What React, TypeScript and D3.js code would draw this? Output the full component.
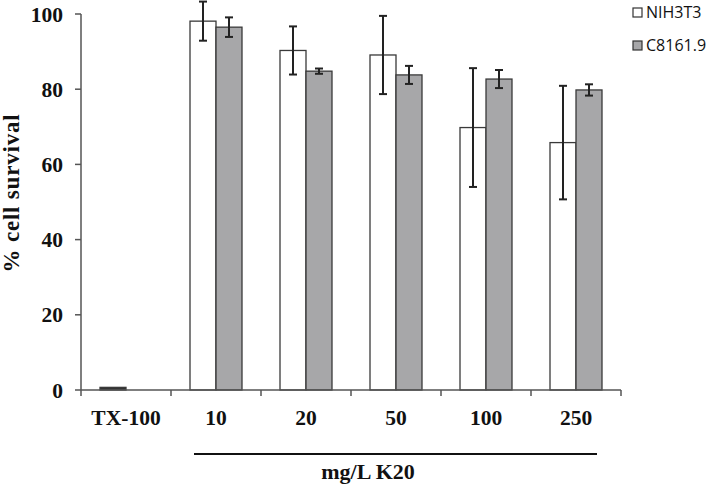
import React from "react";
import * as d3 from "d3";

const categories = ["TX-100", "10", "20", "50", "100", "250"];
const seriesNames = ["NIH3T3", "C8161.9"];
const nihValues = [0.7, 98.1, 90.3, 89.1, 69.8, 65.8];
const nihErrors = [0, 5.2, 6.4, 10.4, 15.8, 15.1];
const c8161Values = [0, 96.5, 84.8, 83.8, 82.7, 79.8];
const c8161Errors = [0, 2.6, 0.7, 2.4, 2.4, 1.5];
const yTicks = [0, 20, 40, 60, 80, 100];

const W = 710;
const H = 487;
const left = 81;
const right = 621;
const top = 14;
const bottom = 390;

export default function App() {
  const x = d3.scaleBand<string>().domain(categories).range([left, right]).paddingInner(0).paddingOuter(0);
  const y = d3.scaleLinear().domain([0, 100]).range([bottom, top]);
  const barW = 26;
  const fills = ["#ffffff", "#a7a7a9"];
  const series = [
    { name: seriesNames[0], values: nihValues, errors: nihErrors },
    { name: seriesNames[1], values: c8161Values, errors: c8161Errors },
  ];
  const serif = "'Liberation Serif', 'Times New Roman', serif";
  const sans = "'Open Sans', 'Liberation Sans', sans-serif";
  const tickPositions = categories.map((c) => x(c)!).concat([right]);

  return (
    <svg width={W} height={H} style={{ position: "absolute", left: 0, top: 0, background: "#fff" }}>
      {/* bars */}
      {series.map((s, si) =>
        categories.map((c, ci) => {
          const v = s.values[ci];
          if (v <= 0) return null;
          const cx = x(c)! + x.bandwidth() / 2;
          const bx = cx - barW + si * barW;
          const isTiny = y(0) - y(v) < 4;
          return (
            <rect
              key={`b-${si}-${ci}`}
              x={bx}
              y={y(v)}
              width={barW}
              height={y(0) - y(v)}
              fill={isTiny ? "#333" : fills[si]}
              stroke="#3a3a3a"
              strokeWidth={1.3}
            />
          );
        })
      )}
      {/* error bars */}
      {series.map((s, si) =>
        categories.map((c, ci) => {
          const v = s.values[ci];
          const e = s.errors[ci];
          if (v <= 0 || e <= 0) return null;
          const cx = x(c)! + x.bandwidth() / 2 - barW / 2 + si * barW;
          const y1 = y(v + e);
          const y2 = y(v - e);
          return (
            <g key={`e-${si}-${ci}`} stroke="#222" strokeWidth={2}>
              <line x1={cx} x2={cx} y1={y1} y2={y2} />
              <line x1={cx - 4} x2={cx + 4} y1={y1} y2={y1} />
              <line x1={cx - 4} x2={cx + 4} y1={y2} y2={y2} />
            </g>
          );
        })
      )}
      {/* y axis */}
      <line x1={left} x2={left} y1={top} y2={bottom} stroke="#555" strokeWidth={1.5} />
      {yTicks.map((t) => (
        <g key={`yt-${t}`}>
          <line x1={left - 6} x2={left} y1={y(t)} y2={y(t)} stroke="#555" strokeWidth={1.5} />
          <text
            x={left - 18}
            y={y(t)}
            dy="0.35em"
            textAnchor="end"
            fontFamily={serif}
            fontWeight="bold"
            fontSize={21.5}
            fill="#111"
          >
            {t}
          </text>
        </g>
      ))}
      {/* x axis */}
      <line x1={left} x2={right} y1={bottom} y2={bottom} stroke="#555" strokeWidth={1.5} />
      {tickPositions.map((p, i) => (
        <line key={`xt-${i}`} x1={p} x2={p} y1={bottom} y2={bottom + 6} stroke="#555" strokeWidth={1.5} />
      ))}
      {categories.map((c) => (
        <text
          key={`xl-${c}`}
          x={x(c)! + x.bandwidth() / 2}
          y={425}
          textAnchor="middle"
          fontFamily={serif}
          fontWeight="bold"
          fontSize={21.5}
          fill="#111"
        >
          {c}
        </text>
      ))}
      {/* group line and label */}
      <line x1={194} x2={597} y1={454} y2={454} stroke="#111" strokeWidth={1.8} />
      <text x={368} y={479} textAnchor="middle" fontFamily={serif} fontWeight="bold" fontSize={22} fill="#111">
        mg/L K20
      </text>
      {/* y title */}
      <text
        transform={`translate(19, 193) rotate(-90)`}
        textAnchor="middle"
        fontFamily={serif}
        fontWeight="bold"
        fontSize={23}
        letterSpacing={0.8}
        fill="#111"
      >
        % cell survival
      </text>
      {/* legend */}
      {series.map((s, si) => (
        <g key={`lg-${si}`} transform={`translate(633, ${8 + si * 33})`}>
          <rect x={0} y={0} width={9} height={9} fill={fills[si]} stroke="#333" strokeWidth={1.2} />
          <text x={13} y={4.5} dy="0.36em" fontFamily={sans} fontSize={16} fill="#111">
            {s.name}
          </text>
        </g>
      ))}
    </svg>
  );
}
